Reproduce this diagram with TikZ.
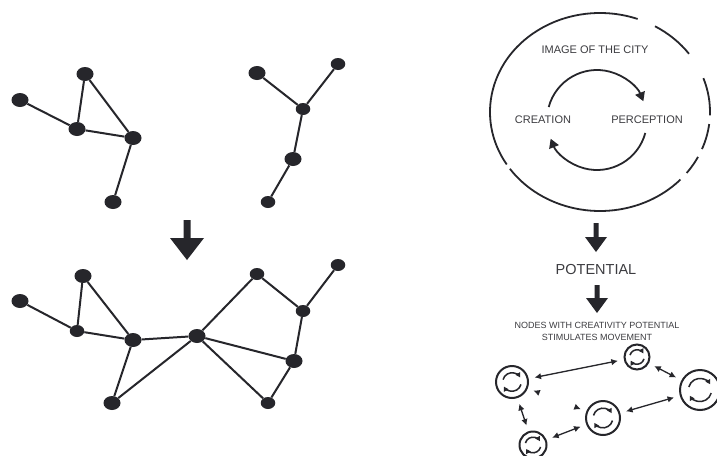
\documentclass[tikz,border=0pt]{standalone}
\usepackage{fontspec}
\setmainfont{Liberation Sans}
\usetikzlibrary{arrows.meta,shapes.geometric}
\definecolor{ink}{HTML}{26262B}
\definecolor{txt}{HTML}{3C3C40}
\tikzset{
  dot/.style={shape=ellipse, fill=ink, draw=none, inner sep=0pt, minimum width=17pt, minimum height=14pt},
  sdot/.style={dot, minimum width=14.5pt, minimum height=12pt},
  link/.style={draw=ink, line width=2pt},
  lbl/.style={text=txt, inner sep=0pt, font=\fontsize{11}{12}\selectfont},
  smalllbl/.style={text=txt, inner sep=0pt, align=center, font=\fontsize{9}{12}\selectfont},
  cnode/.style={shape=circle, draw=ink, line width=2pt, inner sep=0pt},
  darrow/.style={draw=ink, line width=1.3pt, {Latex[length=6.5pt,width=6.5pt]}-{Latex[length=6.5pt,width=6.5pt]}, shorten <=6pt, shorten >=6pt},
  cycsym/.pic={
    \draw[ink, line width=1.5pt, -{Triangle[length=4.5pt,width=5pt]}] (195:0.58) arc[start angle=195, end angle=330, radius=0.58];
    \draw[ink, line width=1.5pt, -{Triangle[length=4.5pt,width=5pt]}] (15:0.58) arc[start angle=15, end angle=150, radius=0.58];
  }
}
\begin{document}
\begin{tikzpicture}[x=1pt,y=-1pt]
\useasboundingbox[fill=white] (0,0) rectangle (717,455);

% ---------- top-left graph ----------
\node[dot] (A) at (20,100) {};
\node[dot] (B) at (85,74) {};
\node[dot] (C) at (77,129) {};
\node[dot] (D) at (133,138) {};
\node[dot] (E) at (113,202) {};
\draw[link] (A) -- (C) (B) -- (C) (B) -- (D) (C) -- (D) (D) -- (E);

% ---------- top-right graph ----------
\node[dot] (F) at (257,73) {};
\node[sdot] (G) at (338,64) {};
\node[sdot] (H) at (303,109) {};
\node[dot] (I) at (293,159) {};
\node[sdot] (J) at (268,202) {};
\draw[link] (F) -- (H) (G) -- (H) (H) -- (I) (I) -- (J);

% ---------- block arrow (left) ----------
\fill[ink] (183.5,220) -- (190.5,220) -- (190.5,238) -- (204,238) -- (187,260) -- (170,238) -- (183.5,238) -- cycle;

% ---------- bottom graph ----------
\node[dot] (a) at (20,301) {};
\node[dot] (b) at (83,276) {};
\node[sdot] (c) at (77,331) {};
\node[dot] (d) at (133,340) {};
\node[dot] (e) at (112,403) {};
\node[dot] (f) at (197,336) {};
\node[sdot] (g) at (257,274) {};
\node[sdot] (h) at (338,265) {};
\node[sdot] (i) at (303,311) {};
\node[dot] (j) at (294,361) {};
\node[sdot] (k) at (268,403) {};
\draw[link] (a) -- (c) (b) -- (c) (b) -- (d) (c) -- (d) (d) -- (e) (d) -- (f)
  (e) -- (f) (f) -- (g) (g) -- (i) (h) -- (i) (i) -- (j) (f) -- (j) (f) -- (k) (j) -- (k);

% ---------- image of the city ----------
\begin{scope}[draw=ink, line width=1.8pt]
\draw (600,112) ++(148:110 and 99) arc[start angle=148, end angle=290, x radius=110, y radius=99];
\draw (600,112) ++(300:110 and 99) arc[start angle=300, end angle=324, x radius=110, y radius=99];
\draw (600,112) ++(340:110 and 99) arc[start angle=340, end angle=362, x radius=110, y radius=99];
\draw (600,112) ++(367:110 and 99) arc[start angle=367, end angle=382, x radius=110, y radius=99];
\draw (600,112) ++(387:110 and 99) arc[start angle=387, end angle=398, x radius=110, y radius=99];
\draw (600,112) ++(403:110 and 99) arc[start angle=403, end angle=505, x radius=110, y radius=99];
\end{scope}
\node[lbl] (img) at (595,50) {IMAGE OF THE CITY};
\node[lbl] (cre) at (543,120) {CREATION};
\node[lbl] (per) at (647,120) {PERCEPTION};
\draw[ink, line width=1.8pt, -{Triangle[length=9pt,width=10pt]}] (597,120) ++(195:50) arc[start angle=195, end angle=338, radius=50];
\draw[ink, line width=1.8pt, -{Triangle[length=9pt,width=10pt]}] (597,120) ++(15:50) arc[start angle=15, end angle=158, radius=50];

% ---------- right arrows ----------
\fill[ink] (593.5,223) -- (598.5,223) -- (598.5,237) -- (607,237) -- (596,252) -- (585,237) -- (593.5,237) -- cycle;
\node[text=txt, inner sep=0pt, font=\fontsize{14.5}{16}\selectfont] (pot) at (596,270) {POTENTIAL};
\fill[ink] (594.5,285) -- (599.5,285) -- (599.5,298) -- (608,298) -- (597,313) -- (586,298) -- (594.5,298) -- cycle;
\node[smalllbl] (nodes) at (597,331.5) {NODES WITH CREATIVITY POTENTIAL\\STIMULATES MOVEMENT};

% ---------- small cycle nodes ----------
\node[cnode, minimum size=25pt] (n1) at (637,357) {};
\node[cnode, minimum size=32pt] (n2) at (512,382) {};
\node[cnode, minimum size=40pt] (n3) at (700,390) {};
\node[cnode, minimum size=34pt] (n4) at (603,418) {};
\node[cnode, minimum size=27pt] (n5) at (533,445) {};
\pic[scale=12.5] at (n1) {cycsym};
\pic[scale=16] at (n2) {cycsym};
\pic[scale=20] at (n3) {cycsym};
\pic[scale=17] at (n4) {cycsym};
\pic[scale=13.5] at (n5) {cycsym};

\draw[darrow] (n2) -- (n1);
\draw[darrow] (n1) -- (n3);
\draw[darrow] (n3) -- (n4);
\draw[darrow] (n4) -- (n5);
\draw[darrow] (n2) -- (n5);
\draw[darrow, draw=white, {Latex[length=6.5pt,width=6.5pt,color=ink]}-{Latex[length=6.5pt,width=6.5pt,color=ink]}] (n2) -- (n4);
\end{tikzpicture}
\end{document}
